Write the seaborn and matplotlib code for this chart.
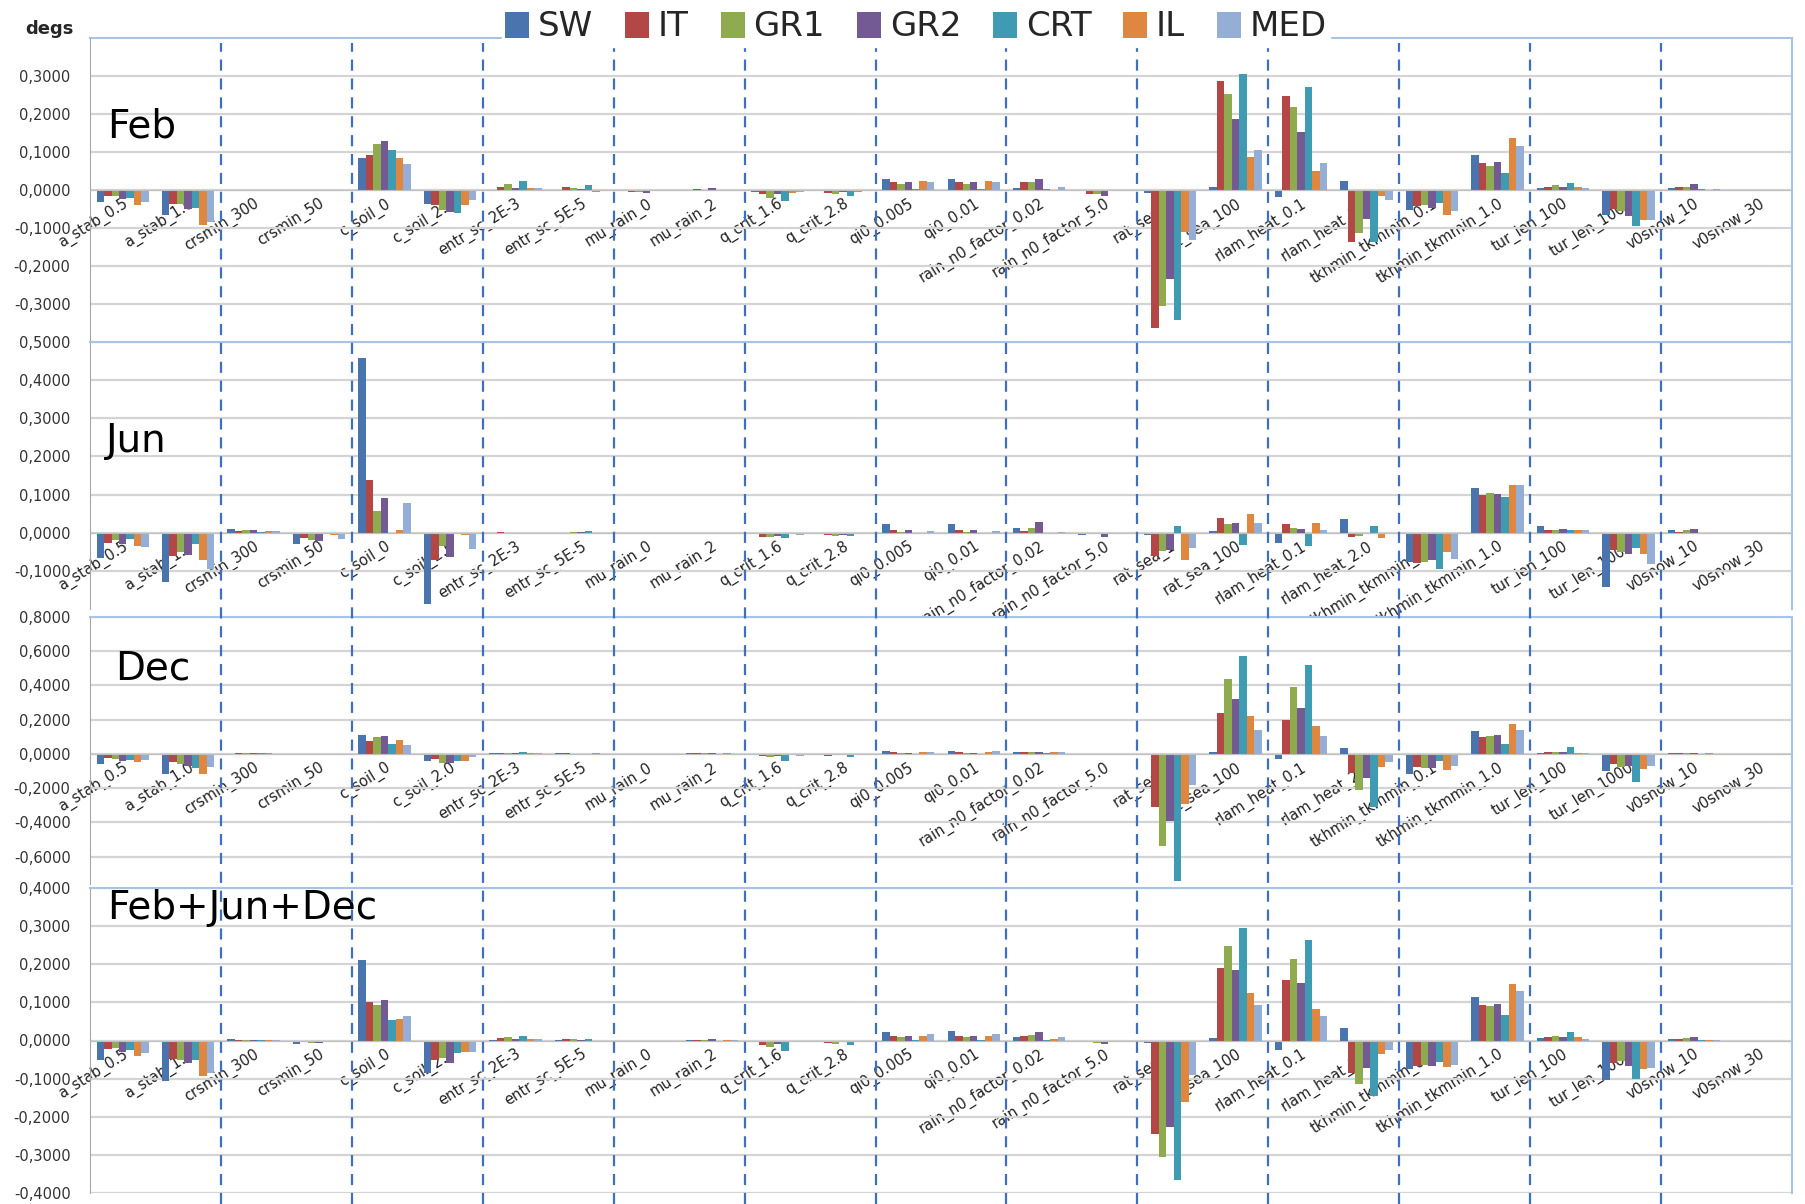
import numpy as np
import pandas as pd
import matplotlib
matplotlib.use("Agg")
import matplotlib.pyplot as plt
from matplotlib.ticker import FuncFormatter
import seaborn as sns

params = ["a_stab_0.5", "a_stab_1.0", "crsmin_300", "crsmin_50", "c_soil_0", "c_soil_2.0",
          "entr_sc_2E-3", "entr_sc_5E-5", "mu_rain_0", "mu_rain_2", "q_crit_1.6", "q_crit_2.8",
          "qi0_0.005", "qi0_0.01", "rain_n0_factor_0.02", "rain_n0_factor_5.0", "rat_sea_1",
          "rat_sea_100", "rlam_heat_0.1", "rlam_heat_2.0", "tkhmin_tkmmin_0.1", "tkhmin_tkmmin_1.0",
          "tur_len_100", "tur_len_1000", "v0snow_10", "v0snow_30"]
regions = ["SW", "IT", "GR1", "GR2", "CRT", "IL", "MED"]
colors = ["#4A74AD", "#B24745", "#8FAB4F", "#735A93", "#3F9BB2", "#E0873F", "#95AED6"]

# one row per parameter, columns in the order of regions
feb = [
    [-0.031, -0.016, -0.016, -0.024, -0.022, -0.039, -0.031],
    [-0.066, -0.038, -0.038, -0.049, -0.048, -0.091, -0.085],
    [-0.003, 0.000, 0.000, 0.000, 0.000, 0.000, 0.000],
    [0.000, 0.000, -0.002, -0.002, -0.002, -0.002, -0.002],
    [0.085, 0.093, 0.121, 0.128, 0.105, 0.083, 0.068],
    [-0.037, -0.039, -0.052, -0.057, -0.060, -0.039, -0.027],
    [0.001, 0.009, 0.015, 0.006, 0.023, 0.006, 0.004],
    [-0.003, 0.007, 0.005, 0.002, 0.012, -0.006, 0.000],
    [-0.003, -0.005, -0.004, -0.007, -0.002, -0.002, -0.002],
    [0.001, 0.003, 0.001, 0.004, 0.001, 0.001, 0.000],
    [-0.004, -0.010, -0.020, -0.010, -0.030, -0.008, -0.005],
    [-0.002, -0.008, -0.010, -0.004, -0.015, -0.005, -0.003],
    [0.030, 0.020, 0.017, 0.022, 0.002, 0.025, 0.022],
    [0.029, 0.021, 0.017, 0.022, 0.003, 0.025, 0.022],
    [0.006, 0.020, 0.020, 0.029, 0.002, 0.000, 0.007],
    [-0.003, -0.011, -0.010, -0.016, -0.002, -0.002, -0.003],
    [-0.008, -0.363, -0.305, -0.235, -0.342, -0.110, -0.132],
    [0.009, 0.286, 0.252, 0.188, 0.305, 0.086, 0.104],
    [-0.018, 0.247, 0.218, 0.152, 0.271, 0.050, 0.072],
    [0.024, -0.137, -0.114, -0.075, -0.138, -0.015, -0.027],
    [-0.052, -0.043, -0.040, -0.048, -0.035, -0.065, -0.055],
    [0.093, 0.072, 0.064, 0.074, 0.044, 0.138, 0.117],
    [0.004, 0.009, 0.012, 0.008, 0.018, 0.009, 0.006],
    [-0.065, -0.050, -0.055, -0.068, -0.094, -0.078, -0.078],
    [0.005, 0.008, 0.008, 0.016, 0.002, -0.002, 0.002],
    [-0.003, -0.003, -0.003, -0.003, -0.003, -0.003, -0.003],
]

jun = [
    [-0.067, -0.026, -0.020, -0.029, -0.016, -0.035, -0.037],
    [-0.130, -0.060, -0.050, -0.058, -0.030, -0.072, -0.095],
    [0.010, 0.004, 0.006, 0.006, 0.001, 0.004, 0.004],
    [-0.029, -0.013, -0.019, -0.022, 0.000, -0.007, -0.016],
    [0.457, 0.137, 0.056, 0.091, 0.000, 0.006, 0.077],
    [-0.187, -0.072, -0.035, -0.063, 0.000, -0.006, -0.044],
    [0.000, 0.003, 0.000, 0.000, -0.002, 0.000, 0.000],
    [0.000, 0.000, 0.003, 0.002, 0.005, -0.002, 0.000],
    [-0.002, -0.002, -0.002, -0.003, -0.002, -0.001, -0.002],
    [0.000, 0.000, 0.000, 0.000, -0.002, 0.000, 0.000],
    [-0.001, -0.010, -0.012, -0.008, -0.015, -0.004, -0.006],
    [-0.001, -0.006, -0.009, -0.005, -0.009, -0.003, -0.002],
    [0.024, 0.006, 0.002, 0.007, -0.002, -0.003, 0.004],
    [0.024, 0.006, 0.002, 0.006, -0.002, -0.002, 0.004],
    [0.012, 0.005, 0.012, 0.027, 0.000, 0.000, 0.003],
    [-0.005, -0.003, -0.003, -0.010, -0.002, -0.001, -0.001],
    [-0.005, -0.060, -0.048, -0.045, 0.017, -0.072, -0.040],
    [0.004, 0.038, 0.022, 0.026, -0.033, 0.048, 0.025],
    [-0.028, 0.024, 0.013, 0.010, -0.034, 0.026, 0.006],
    [0.035, -0.010, -0.008, 0.000, 0.017, -0.013, 0.000],
    [-0.077, -0.080, -0.077, -0.072, -0.095, -0.050, -0.068],
    [0.116, 0.099, 0.103, 0.102, 0.093, 0.125, 0.125],
    [0.018, 0.008, 0.008, 0.009, 0.006, 0.008, 0.007],
    [-0.142, -0.045, -0.050, -0.056, -0.040, -0.057, -0.083],
    [0.006, 0.001, 0.006, 0.009, -0.001, -0.002, 0.000],
    [-0.003, -0.002, -0.003, -0.003, -0.001, -0.001, -0.001],
]

dec = [
    [-0.060, -0.025, -0.027, -0.040, -0.035, -0.050, -0.035],
    [-0.120, -0.050, -0.060, -0.070, -0.080, -0.115, -0.075],
    [0.000, 0.003, 0.003, 0.003, 0.003, 0.003, 0.000],
    [0.000, 0.000, 0.000, 0.000, 0.000, 0.000, 0.000],
    [0.110, 0.075, 0.100, 0.105, 0.058, 0.080, 0.050],
    [-0.040, -0.030, -0.055, -0.055, -0.040, -0.043, -0.020],
    [0.004, 0.006, 0.006, 0.003, 0.010, 0.004, 0.003],
    [0.003, 0.003, 0.002, 0.001, 0.001, 0.003, 0.001],
    [0.000, 0.000, 0.000, 0.000, 0.000, 0.000, 0.000],
    [0.003, 0.003, 0.003, 0.003, 0.001, 0.003, 0.002],
    [-0.003, -0.015, -0.017, -0.010, -0.040, -0.002, -0.010],
    [-0.002, -0.010, -0.008, -0.005, -0.018, -0.002, 0.000],
    [0.015, 0.010, 0.008, 0.006, 0.002, 0.010, 0.012],
    [0.015, 0.010, 0.008, 0.007, 0.002, 0.012, 0.015],
    [0.010, 0.012, 0.012, 0.012, 0.003, 0.010, 0.010],
    [-0.003, -0.004, -0.004, -0.006, 0.000, -0.002, -0.002],
    [-0.005, -0.309, -0.540, -0.390, -0.740, -0.290, -0.180],
    [0.010, 0.240, 0.440, 0.320, 0.570, 0.220, 0.140],
    [-0.030, 0.200, 0.390, 0.270, 0.520, 0.165, 0.105],
    [0.035, -0.110, -0.210, -0.140, -0.310, -0.075, -0.050],
    [-0.120, -0.075, -0.080, -0.085, -0.042, -0.095, -0.070],
    [0.135, 0.100, 0.105, 0.110, 0.060, 0.175, 0.140],
    [0.003, 0.010, 0.012, 0.010, 0.040, 0.008, 0.005],
    [-0.100, -0.060, -0.075, -0.070, -0.165, -0.090, -0.070],
    [0.005, 0.003, 0.003, 0.003, 0.002, 0.005, 0.002],
    [0.000, 0.000, 0.000, 0.000, 0.000, 0.000, 0.000],
]

total = [
    [-0.052, -0.022, -0.020, -0.030, -0.025, -0.040, -0.033],
    [-0.105, -0.048, -0.050, -0.060, -0.052, -0.092, -0.085],
    [0.003, 0.002, 0.002, 0.002, 0.001, 0.002, 0.001],
    [-0.010, -0.003, -0.006, -0.006, 0.000, -0.003, -0.004],
    [0.212, 0.100, 0.092, 0.107, 0.055, 0.057, 0.063],
    [-0.085, -0.050, -0.045, -0.060, -0.033, -0.030, -0.030],
    [0.002, 0.006, 0.008, 0.003, 0.011, 0.004, 0.003],
    [0.002, 0.004, 0.003, 0.001, 0.005, -0.001, 0.000],
    [-0.002, -0.003, -0.003, -0.005, -0.001, 0.000, -0.001],
    [0.002, 0.002, 0.002, 0.003, 0.000, 0.002, 0.001],
    [-0.001, -0.012, -0.016, -0.008, -0.028, -0.003, -0.005],
    [-0.001, -0.006, -0.008, -0.004, -0.013, -0.002, -0.001],
    [0.023, 0.012, 0.010, 0.012, 0.001, 0.012, 0.016],
    [0.024, 0.012, 0.010, 0.012, 0.001, 0.012, 0.016],
    [0.010, 0.013, 0.014, 0.022, 0.001, 0.003, 0.008],
    [-0.004, -0.005, -0.006, -0.010, 0.000, -0.002, -0.002],
    [-0.006, -0.246, -0.305, -0.228, -0.366, -0.160, -0.090],
    [0.006, 0.189, 0.247, 0.184, 0.294, 0.124, 0.093],
    [-0.025, 0.160, 0.214, 0.151, 0.264, 0.083, 0.063],
    [0.033, -0.085, -0.113, -0.072, -0.146, -0.035, -0.025],
    [-0.075, -0.068, -0.065, -0.067, -0.057, -0.070, -0.063],
    [0.115, 0.092, 0.090, 0.097, 0.066, 0.147, 0.129],
    [0.006, 0.010, 0.012, 0.010, 0.022, 0.008, 0.005],
    [-0.103, -0.060, -0.055, -0.068, -0.101, -0.075, -0.073],
    [0.005, 0.005, 0.007, 0.009, 0.001, 0.001, 0.001],
    [-0.002, -0.002, -0.002, -0.002, -0.002, -0.002, -0.002],
]

sns.set_style("white")
plt.rcParams["font.family"] = ["DejaVu Sans"]

W, H = 1806, 1204
fig = plt.figure(figsize=(W / 100, H / 100), dpi=100)

left = 90 / W
width = 1702 / W

# name, data, (ymin, ymax), ticks, top px, bottom px, label pos
panels = [
    ("Feb", feb, (-0.4, 0.4), np.arange(-0.3, 0.31, 0.1), 38, 342, (107, 127)),
    ("Jun", jun, (-0.2, 0.5), np.arange(-0.1, 0.51, 0.1), 342, 609, (106, 441)),
    ("Dec", dec, (-0.76, 0.8), np.arange(-0.6, 0.81, 0.2), 617, 884, (115, 668)),
    ("Feb+Jun+Dec", total, (-0.4, 0.4), np.arange(-0.4, 0.41, 0.1), 888, 1193, (107, 908)),
]

fmt = FuncFormatter(lambda v, p: f"{v:.4f}".replace(".", ",").replace("-0,0000", "0,0000"))
handles = None

for i, (name, data, ylim, ticks, top, bottom, lab) in enumerate(panels):
    ax = fig.add_axes([left, 1 - bottom / H, width, (bottom - top) / H], zorder=i + 1)
    df = pd.DataFrame(data, columns=regions)
    df["param"] = params
    long = df.melt(id_vars="param", var_name="region", value_name="value")
    sns.barplot(data=long, x="param", y="value", hue="region", order=params,
                hue_order=regions, palette=colors, saturation=1, width=0.8,
                errorbar=None, ax=ax, linewidth=0, legend=(i == 0))
    if i == 0:
        handles, labels = ax.get_legend_handles_labels()
        ax.get_legend().remove()

    ax.set_xlim(-0.5, len(params) - 0.5)
    ax.set_ylim(*ylim)
    ax.set_yticks(ticks)
    ax.yaxis.set_major_formatter(fmt)
    ax.set_xlabel("")
    ax.set_ylabel("")
    ax.set_facecolor("white")
    ax.grid(axis="y", color="#d4d4d4", linewidth=1.6)
    ax.set_axisbelow(True)

    ax.spines["bottom"].set_position(("data", 0))
    ax.spines["bottom"].set_color("#bfbfbf")
    ax.spines["left"].set_color("#a6a6a6")
    ax.spines["top"].set_color("#a9c3e6")
    ax.spines["right"].set_color("#a9c3e6")
    ax.spines["top"].set_linewidth(1.5)
    ax.spines["right"].set_linewidth(1.5)

    ax.set_xticks(range(len(params)))
    ax.set_xticklabels(params, rotation=32, ha="right", va="top",
                       rotation_mode="anchor", fontsize=10.5, color="#222222")
    ax.set_xticks(np.arange(-0.5, len(params), 1), minor=True)
    ax.tick_params(axis="x", which="major", length=0, pad=4)
    ax.tick_params(axis="x", which="minor", length=4, color="#bfbfbf", direction="out")
    ax.tick_params(axis="y", length=0, pad=14, labelsize=10.5, labelcolor="#333333")

    fig.text(lab[0] / W, 1 - lab[1] / H, name, fontsize=28, color="black",
             va="center", ha="left", zorder=20)

# dashed separators between parameter pairs, running over all panels
over = fig.add_axes([left, 0, width, 1 - 43 / H], zorder=30)
over.set_xlim(-0.5, len(params) - 0.5)
over.set_ylim(0, 1)
over.patch.set_alpha(0)
over.axis("off")
for xb in np.arange(1.5, len(params) - 1, 2):
    over.axvline(xb, color="#3F6FC0", linestyle=(0, (5, 3.5)), linewidth=1.6)

fig.text(25 / W, 1 - 29 / H, "degs", fontsize=13, fontweight="bold", va="center", ha="left")

leg = fig.legend(handles, regions, loc="center left", bbox_to_anchor=(502 / W, 1 - 27 / H),
                 ncol=7, frameon=True, fontsize=24.5, handlelength=0.7,
                 handleheight=0.8, handletextpad=0.26, columnspacing=0.94,
                 borderpad=0.1, borderaxespad=0)
leg.get_frame().set_facecolor("white")
leg.get_frame().set_edgecolor("white")
leg.get_frame().set_alpha(1)
leg.set_zorder(40)

fig.savefig("out.png", dpi=100)
